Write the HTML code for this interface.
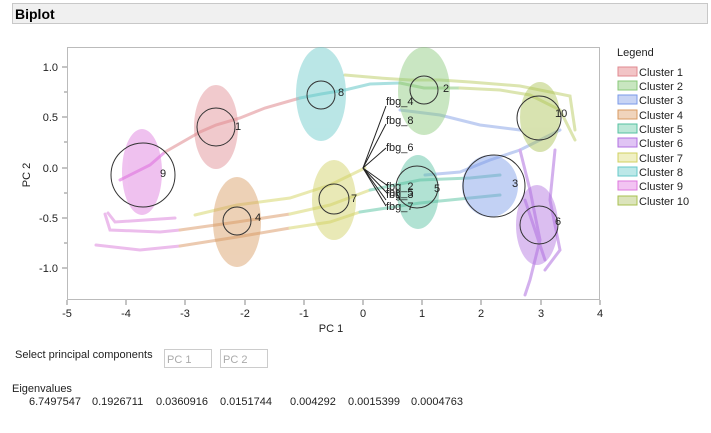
<!DOCTYPE html>
<html><head><style>
body{margin:0;background:#fff;width:711px;height:428px;overflow:hidden;font-family:"Liberation Sans",sans-serif;}
</style></head><body>
<svg width="711" height="428" xmlns="http://www.w3.org/2000/svg" font-family="Liberation Sans, sans-serif">
<rect x="12.5" y="3.5" width="695" height="20" fill="#f0f0f0" stroke="#c8c8c8"/>
<text x="15" y="19" font-size="14" font-weight="bold" fill="#000">Biplot</text>
<rect x="67.5" y="47.5" width="532" height="252" fill="#fff" stroke="#bbb"/>
<!-- trajectories -->
<g fill="none" stroke-width="3" stroke-linecap="round" opacity="0.55">
<path d="M120,180 L150,165 L165,152" stroke="#dd66dd"/>
<path d="M165,152 L200,132 L216,125 L240,118 L265,108 L300,98" stroke="#e08a90"/>
<path d="M300,98 L321,94 L345,90 L370,84 L400,83" stroke="#66c8c8"/>
<path d="M400,83 L424,88 L460,88" stroke="#88c878"/>
<path d="M460,88 L500,90 L530,95 L560,110 L575,140" stroke="#c0d070"/>
<path d="M345,75 L380,78 L410,80 L440,80 L470,82 L520,86 L570,96 L575,130" stroke="#c0d070"/>
<path d="M96,245 L140,250 L180,246" stroke="#dd88dd"/>
<path d="M180,246 L237,237 L290,228" stroke="#dda070"/>
<path d="M290,228 L330,222 L360,212" stroke="#d8d870"/>
<path d="M360,212 L420,203 L470,198 L500,195" stroke="#66c8a8"/>
<path d="M105,214 L110,230 L160,232 L180,230" stroke="#dd88dd"/>
<path d="M180,230 L237,222 L290,214" stroke="#dda070"/>
<path d="M290,214 L330,205 L370,190" stroke="#d8d870"/>
<path d="M370,190 L420,180 L470,178 L500,175" stroke="#66c8a8"/>
<path d="M108,213 L115,222 L175,218" stroke="#dd88dd"/>
<path d="M195,215 L237,205 L290,198 L330,185 L365,168" stroke="#d8d870"/>
<path d="M425,175 L460,172 L490,160 L520,150 L560,130" stroke="#90a8e8"/>
<path d="M400,110 L440,115 L480,125 L520,130" stroke="#90a8e8"/>
<path d="M520,150 L530,190 L540,240 L530,280 L525,295" stroke="#b070e0"/>
<path d="M555,150 L550,200 L560,250 L545,270" stroke="#b070e0"/>
<path d="M525,200 L535,230 L545,260" stroke="#b070e0"/>
</g>
<!-- ellipses -->
<g opacity="0.45">
<ellipse cx="142" cy="172" rx="20" ry="43" fill="#dd77dd"/>
<ellipse cx="216" cy="127" rx="22" ry="42" fill="#e08a90"/>
<ellipse cx="321" cy="94" rx="25" ry="47" fill="#66c8c8"/>
<ellipse cx="424" cy="91" rx="26" ry="44" fill="#88c878"/>
<ellipse cx="540" cy="117" rx="20" ry="35" fill="#a8c050"/>
<ellipse cx="334" cy="200" rx="22" ry="40" fill="#d0d060"/>
<ellipse cx="237" cy="222" rx="24" ry="45" fill="#d89a60"/>
<ellipse cx="418" cy="192" rx="21" ry="37" fill="#55c0a0"/>
<ellipse cx="490" cy="186" rx="28" ry="31" fill="#7a9ae8"/>
<ellipse cx="537" cy="225" rx="21" ry="40" fill="#b070e0"/>
</g>
<g fill="none" stroke="#333" stroke-width="1">
<circle cx="143" cy="175" r="32"/><circle cx="216" cy="127" r="19"/>
<circle cx="321" cy="95" r="14"/><circle cx="424" cy="90" r="14"/>
<circle cx="539" cy="118" r="22"/><circle cx="334" cy="199" r="15"/>
<circle cx="237" cy="221" r="14"/><circle cx="417" cy="187" r="21"/>
<circle cx="494" cy="186" r="31"/><circle cx="539" cy="225" r="19"/>
</g>
<g font-size="11" fill="#222">
<text x="160" y="177">9</text><text x="235" y="130">1</text><text x="338" y="96">8</text>
<text x="443" y="92">2</text><text x="555" y="117">10</text><text x="351" y="202">7</text>
<text x="255" y="221">4</text><text x="434" y="192">5</text><text x="512" y="187">3</text>
<text x="555" y="225">6</text>
</g>
<g stroke="#222" stroke-width="1">
<line x1="363" y1="168" x2="386" y2="106"/><line x1="363" y1="168" x2="386" y2="124"/>
<line x1="363" y1="168" x2="386" y2="148"/><line x1="363" y1="168" x2="388" y2="186"/>
<line x1="363" y1="168" x2="388" y2="194"/><line x1="363" y1="168" x2="386" y2="200"/>
<line x1="363" y1="168" x2="386" y2="206"/>
</g>
<g font-size="11" fill="#222">
<text x="386" y="105">fbg_4</text><text x="386" y="124">fbg_8</text><text x="386" y="151">fbg_6</text>
<text x="386" y="190">fbg_2</text><text x="386" y="196">fbg_5</text><text x="386" y="198">fbg_3</text>
<text x="386" y="210">fbg_7</text>
</g>
<!-- axes ticks -->
<g stroke="#888" stroke-width="1">
<line x1="67" y1="300" x2="67" y2="305"/><line x1="126" y1="300" x2="126" y2="305"/>
<line x1="185" y1="300" x2="185" y2="305"/><line x1="245" y1="300" x2="245" y2="305"/>
<line x1="304" y1="300" x2="304" y2="305"/><line x1="363" y1="300" x2="363" y2="305"/>
<line x1="422" y1="300" x2="422" y2="305"/><line x1="481" y1="300" x2="481" y2="305"/>
<line x1="541" y1="300" x2="541" y2="305"/><line x1="600" y1="300" x2="600" y2="305"/>
<line x1="62" y1="67" x2="67" y2="67"/><line x1="62" y1="117" x2="67" y2="117"/>
<line x1="62" y1="168" x2="67" y2="168"/><line x1="62" y1="218" x2="67" y2="218"/>
<line x1="62" y1="268" x2="67" y2="268"/>
<line x1="64" y1="92" x2="67" y2="92"/><line x1="64" y1="142" x2="67" y2="142"/>
<line x1="64" y1="193" x2="67" y2="193"/><line x1="64" y1="243" x2="67" y2="243"/>
</g>
<g font-size="11" fill="#222" text-anchor="middle">
<text x="67" y="317">-5</text><text x="126" y="317">-4</text><text x="185" y="317">-3</text>
<text x="245" y="317">-2</text><text x="304" y="317">-1</text><text x="363" y="317">0</text>
<text x="422" y="317">1</text><text x="481" y="317">2</text><text x="541" y="317">3</text>
<text x="600" y="317">4</text>
<text x="331" y="332">PC 1</text>
</g>
<g font-size="11" fill="#222" text-anchor="end">
<text x="58" y="71">1.0</text><text x="58" y="121">0.5</text><text x="58" y="172">0.0</text>
<text x="58" y="222">-0.5</text><text x="58" y="272">-1.0</text>
</g>
<text x="30" y="175" font-size="11" fill="#222" text-anchor="middle" transform="rotate(-90 30 175)">PC 2</text>
<!-- legend -->
<text x="617" y="56" font-size="11" fill="#222">Legend</text>
<g font-size="11" fill="#222" stroke-width="1">
<rect x="618" y="67" width="19" height="9" fill="#f2c4c6" stroke="#e08a90"/><text x="639" y="76">Cluster 1</text>
<rect x="618" y="81" width="19" height="9" fill="#c8e6c0" stroke="#88c878"/><text x="639" y="90">Cluster 2</text>
<rect x="618" y="95" width="19" height="9" fill="#c8d4f4" stroke="#7a9ae8"/><text x="639" y="104">Cluster 3</text>
<rect x="618" y="110" width="19" height="9" fill="#f0d4bc" stroke="#d89a60"/><text x="639" y="119">Cluster 4</text>
<rect x="618" y="124" width="19" height="9" fill="#bce8d8" stroke="#55c0a0"/><text x="639" y="133">Cluster 5</text>
<rect x="618" y="138" width="19" height="9" fill="#e0c4f4" stroke="#b070e0"/><text x="639" y="147">Cluster 6</text>
<rect x="618" y="153" width="19" height="9" fill="#f0f0c4" stroke="#d0d060"/><text x="639" y="162">Cluster 7</text>
<rect x="618" y="167" width="19" height="9" fill="#bce8e8" stroke="#66c8c8"/><text x="639" y="176">Cluster 8</text>
<rect x="618" y="181" width="19" height="9" fill="#f2c4f2" stroke="#dd77dd"/><text x="639" y="190">Cluster 9</text>
<rect x="618" y="196" width="19" height="9" fill="#dce4bc" stroke="#a8c050"/><text x="639" y="205">Cluster 10</text>
</g>
<!-- bottom -->
<text x="15" y="358" font-size="11" fill="#222">Select principal components</text>
<rect x="164.5" y="349.5" width="47" height="18" fill="#fff" stroke="#ccc"/>
<text x="167" y="363" font-size="11" fill="#aaa">PC 1</text>
<rect x="220.5" y="349.5" width="47" height="18" fill="#fff" stroke="#ccc"/>
<text x="223" y="363" font-size="11" fill="#aaa">PC 2</text>
<text x="12" y="392" font-size="11" fill="#222">Eigenvalues</text>
<g font-size="11" fill="#222">
<text x="29" y="405">6.7497547</text><text x="92" y="405">0.1926711</text><text x="156" y="405">0.0360916</text>
<text x="220" y="405">0.0151744</text><text x="290" y="405">0.004292</text><text x="348" y="405">0.0015399</text>
<text x="411" y="405">0.0004763</text>
</g>
</svg>
</body></html>
